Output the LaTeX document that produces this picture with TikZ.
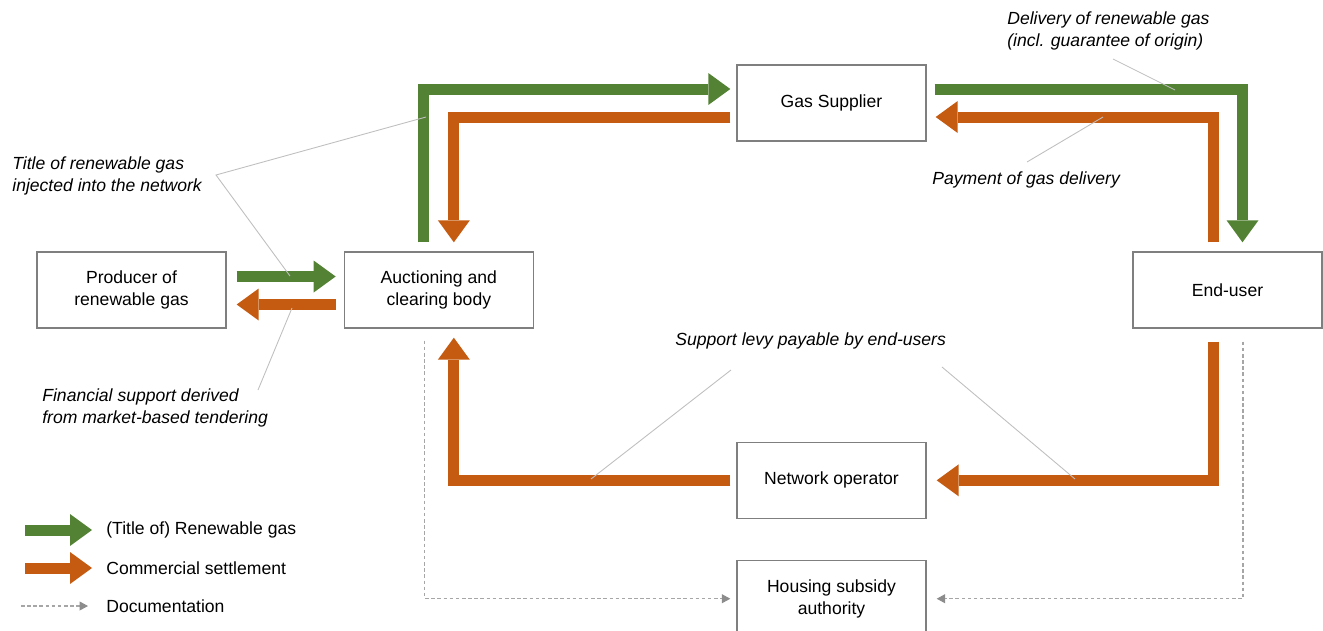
\documentclass[tikz,border=0pt]{standalone}
\usepackage{fontspec}
\setmainfont{Liberation Sans}
\usetikzlibrary{arrows.meta,positioning,calc}
\definecolor{flowgreen}{HTML}{548235}
\definecolor{floworange}{HTML}{C55A11}
\definecolor{boxgray}{HTML}{7F7F7F}
\definecolor{leadgray}{HTML}{BFBFBF}
\definecolor{docgray}{HTML}{A6A6A6}
\definecolor{tipgray}{HTML}{8C8C8C}

\begin{document}
\begin{tikzpicture}[
  x=0.02cm, y=-0.02cm,
  font=\fontsize{10}{12.5}\selectfont,
  box/.style={draw=boxgray, line width=0.8pt, minimum width=3.78cm, minimum height=1.52cm, inner sep=2pt, align=center},
  flow/.style={line width=0.22cm, line join=miter, -{Triangle[length=0.44cm, width=0.64cm, line width=0pt]}},
  gasflow/.style={flow, draw=flowgreen},
  payflow/.style={flow, draw=floworange},
  docline/.style={draw=docgray, line width=0.6pt, dash pattern=on 2pt off 1.5pt, -{Triangle[length=0.17cm, width=0.18cm, color=tipgray]}},
  leader/.style={draw=leadgray, line width=0.5pt},
  note/.style={font=\fontsize{10}{12.5}\selectfont\itshape, align=left, inner sep=0pt, anchor=west},
  legtext/.style={inner sep=0pt, anchor=west}
]
\useasboundingbox (0,0) rectangle (1323,630);

% boxes
\node[box] (producer) at (131.5,290) {Producer of\\renewable gas};
\node[box, right=2.34cm of producer] (auction) {Auctioning and\\clearing body};
\node[box] (supplier) at (831.5,103) {Gas Supplier};
\node[box] (enduser) at (1227.5,290) {End-user};
\node[box, below=6cm of supplier] (netop) {Network operator};
\node[box, below=0.82cm of netop] (housing) {Housing subsidy\\authority};

% renewable gas and money flows
\draw[gasflow] ($(producer.east)+(10,-13.5)$) -- ($(auction.west)+(-8,-13.5)$);
\draw[payflow] ($(auction.west)+(-8,14.5)$) -- ($(producer.east)+(10,14.5)$);
\draw[gasflow] ($(auction.north)+(-15,-9)$) |- ($(supplier.west)+(-6,-14)$);
\draw[payflow] ($(supplier.west)+(-6,14)$) -| ($(auction.north)+(15,-9)$);
\draw[gasflow] ($(supplier.east)+(8,-14)$) -| ($(enduser.north)+(15,-9)$);
\draw[payflow] ($(enduser.north)+(-14,-9)$) |- ($(supplier.east)+(9,14)$);
\draw[payflow] ($(enduser.south)+(-14,13)$) |- ($(netop.east)+(10,0)$);
\draw[payflow] ($(netop.west)+(-6,0)$) -| ($(auction.south)+(15,9)$);

% documentation
\draw[docline] ($(auction.south)+(-14,12)$) |- ($(housing.west)+(-6,0)$);
\draw[docline] ($(enduser.south)+(15.5,13)$) |- ($(housing.east)+(10,0)$);

% notes
\node[note] (titlelbl) at (12,175.5) {Title of renewable gas\\injected into the network};
\node[note] (finlbl) at (42,407.5) {Financial support derived\\from market-based tendering};
\node[note] (dellbl) at (1007,31) {Delivery of renewable gas\\(incl. guarantee of origin)};
\node[note] (paylbl) at (932,180) {Payment of gas delivery};
\node[note] (levylbl) at (675,341) {Support levy payable by end-users};

\coordinate (titlept) at (216,175);
\draw[leader] (426,117) -- (titlept) -- (290,276);
\draw[leader] (292,308) -- (258,390);
\draw[leader] (1113,59) -- (1175,90);
\draw[leader] (1027,162) -- (1103,117);
\draw[leader] (731,370) -- (591,479);
\draw[leader] (942,367) -- (1075,479);

% legend
\node[legtext] (lgas) at (106,530) {(Title of) Renewable gas};
\node[legtext] (lpay) at (106,568) {Commercial settlement};
\node[legtext] (ldoc) at (106,606) {Documentation};
\draw[gasflow] ($(lgas.west)+(-81,0)$) -- ($(lgas.west)+(-14,0)$);
\draw[payflow] ($(lpay.west)+(-81,0)$) -- ($(lpay.west)+(-14,0)$);
\draw[docline] ($(ldoc.west)+(-85,0)$) -- ($(ldoc.west)+(-18,0)$);
\end{tikzpicture}
\end{document}
